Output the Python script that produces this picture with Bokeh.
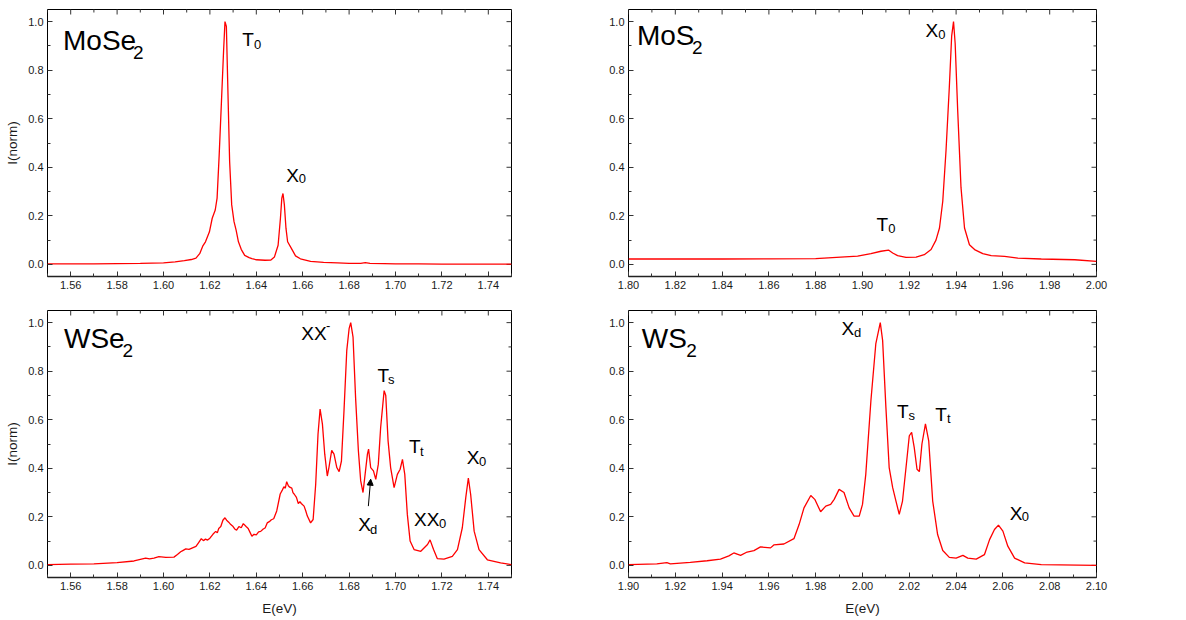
from bokeh.plotting import figure
from bokeh.layouts import column, row
from bokeh.models import (ColumnDataSource, Range1d, LinearAxis, FixedTicker,
                          PrintfTickFormatter, Arrow, NormalHead)
from bokeh.core.properties import value
from bokeh.embed import file_html
from bokeh.resources import INLINE

FONT = "Liberation Sans"
RED = "#ff0000"

# ---- PL spectra (photon energy in eV, normalised intensity) ----
mose2_e = [1.550, 1.560, 1.570, 1.580, 1.590, 1.600, 1.605, 1.609, 1.612, 1.614, 1.6156, 1.6169,
           1.6181, 1.6198, 1.621, 1.6223, 1.6231, 1.624, 1.625, 1.6259, 1.6265, 1.6271, 1.6278,
           1.6285, 1.6294, 1.6304, 1.6313, 1.6323, 1.6335, 1.635, 1.6369, 1.6381, 1.640, 1.6438,
           1.6463, 1.6478, 1.6494, 1.6504, 1.651, 1.6515, 1.6521, 1.6528, 1.6535, 1.655, 1.6569,
           1.659, 1.6634, 1.669, 1.675, 1.680, 1.685, 1.687, 1.689, 1.695, 1.700, 1.710, 1.720,
           1.730, 1.740, 1.750]
mose2_i = [0.002, 0.002, 0.002, 0.003, 0.004, 0.006, 0.010, 0.015, 0.020, 0.026, 0.044, 0.075,
           0.093, 0.134, 0.190, 0.224, 0.273, 0.450, 0.675, 0.880, 1.000, 0.980, 0.700,
           0.425, 0.245, 0.176, 0.141, 0.093, 0.062, 0.037, 0.028, 0.024, 0.019, 0.017,
           0.018, 0.030, 0.079, 0.190, 0.273, 0.292, 0.245, 0.148, 0.093, 0.068, 0.035,
           0.023, 0.012, 0.008, 0.006, 0.004, 0.004, 0.007, 0.004, 0.003, 0.002, 0.002, 0.001,
           0.001, 0.001, 0.001]

mos2_e = [1.800, 1.820, 1.840, 1.860, 1.880, 1.8907, 1.8979, 1.9036, 1.9079, 1.9111, 1.9129,
          1.915, 1.9186, 1.9229, 1.9264, 1.9293, 1.9314, 1.9329, 1.9343, 1.9357, 1.9371, 1.9381,
          1.9389, 1.9396, 1.9407, 1.9421, 1.9436, 1.9457, 1.9479, 1.9514, 1.955, 1.9607, 1.9664,
          1.9764, 1.9907, 2.000]
mos2_i = [0.022, 0.023, 0.022, 0.023, 0.024, 0.030, 0.034, 0.044, 0.054, 0.059, 0.047,
          0.036, 0.029, 0.030, 0.040, 0.061, 0.100, 0.150, 0.260, 0.470, 0.730, 0.940,
          1.000, 0.910, 0.630, 0.316, 0.150, 0.081, 0.061, 0.044, 0.036, 0.033, 0.026,
          0.022, 0.019, 0.012]

wse2_e = [1.550, 1.560, 1.570, 1.580, 1.5873, 1.5923, 1.5940, 1.5959, 1.598, 1.601, 1.6045,
          1.6060, 1.6074, 1.6085, 1.6096, 1.611, 1.6125, 1.614, 1.6150, 1.6163, 1.6172, 1.6181,
          1.619, 1.620, 1.6213, 1.6225, 1.6232, 1.6238, 1.6247, 1.6256, 1.6265, 1.6272, 1.6281,
          1.629, 1.630, 1.6307, 1.6315, 1.6325, 1.6335, 1.6344, 1.6356, 1.6365, 1.6372, 1.6381,
          1.639, 1.640, 1.641, 1.6419, 1.643, 1.6438, 1.6447, 1.6456, 1.6465, 1.6475, 1.6488,
          1.6503, 1.6512, 1.6519, 1.6525, 1.6531, 1.6538, 1.6544, 1.6553, 1.6558, 1.6563,
          1.6573, 1.6581, 1.6588, 1.6594, 1.6606, 1.6613, 1.662, 1.6634, 1.6645,
          1.6656, 1.6666, 1.6675, 1.6685, 1.6695, 1.6706, 1.6713, 1.6725,
          1.6735, 1.6747, 1.6757, 1.6767, 1.6778, 1.679, 1.680, 1.6807, 1.6817, 1.6828, 1.684,
          1.685, 1.686, 1.6869, 1.6879, 1.6884, 1.6893, 1.6905, 1.6915, 1.6926, 1.6936, 1.6951,
          1.6958, 1.6968, 1.6979, 1.6994, 1.7008, 1.702, 1.703, 1.704, 1.7051, 1.7063, 1.708,
          1.7109, 1.7138, 1.7149, 1.7164, 1.718, 1.7209, 1.7245, 1.7267, 1.7288, 1.7303, 1.7314,
          1.7324, 1.7339, 1.736, 1.7396, 1.7453, 1.750]
wse2_i = [0.003, 0.005, 0.006, 0.011, 0.018, 0.030, 0.027, 0.030, 0.036, 0.033, 0.034,
          0.045, 0.056, 0.062, 0.068, 0.066, 0.072, 0.078, 0.092, 0.110, 0.102, 0.108,
          0.104, 0.112, 0.128, 0.140, 0.134, 0.152, 0.160, 0.186, 0.196, 0.186, 0.178,
          0.168, 0.160, 0.150, 0.145, 0.160, 0.155, 0.172, 0.160, 0.152, 0.138, 0.120,
          0.128, 0.126, 0.138, 0.140, 0.150, 0.154, 0.175, 0.180, 0.188, 0.192, 0.224,
          0.294, 0.310, 0.324, 0.318, 0.345, 0.328, 0.322, 0.318, 0.300, 0.294,
          0.280, 0.255, 0.262, 0.255, 0.244, 0.225, 0.203, 0.175, 0.189,
          0.334, 0.540, 0.644, 0.582, 0.458, 0.368, 0.403, 0.474,
          0.458, 0.403, 0.386, 0.430, 0.637, 0.886, 0.975, 1.000, 0.940, 0.690, 0.472,
          0.348, 0.300, 0.375, 0.458, 0.479, 0.403, 0.389, 0.354, 0.417, 0.568, 0.720,
          0.700, 0.513, 0.403, 0.320, 0.375, 0.396, 0.437, 0.375, 0.210, 0.100, 0.065,
          0.058, 0.086, 0.105, 0.065, 0.028, 0.026, 0.037, 0.065, 0.155, 0.280, 0.360,
          0.292, 0.141, 0.065, 0.023, 0.010, 0.003]

ws2_e = [1.900, 1.9121, 1.9164, 1.9179, 1.9264, 1.9336, 1.9393, 1.9429, 1.945, 1.9479, 1.9507,
         1.9536, 1.9564, 1.9607, 1.9621, 1.9664, 1.9707, 1.9729, 1.975, 1.9779, 1.9796, 1.9821,
         1.9843, 1.9864, 1.9879, 1.990, 1.9921, 1.9943, 1.9964, 1.9986, 2.000, 2.0014, 2.0036,
         2.0057, 2.0076, 2.0086, 2.010, 2.0114, 2.0129, 2.0143, 2.0157, 2.0171, 2.0186, 2.020,
         2.021, 2.0221, 2.0233, 2.0243, 2.0254, 2.0269, 2.0283, 2.030, 2.0321, 2.0343, 2.0371,
         2.040, 2.0429, 2.045, 2.0486, 2.0521, 2.0543, 2.0564, 2.0581, 2.060, 2.0621, 2.065,
         2.0693, 2.0764, 2.100]
ws2_i = [0.003, 0.006, 0.011, 0.006, 0.012, 0.019, 0.026, 0.039, 0.051, 0.041, 0.055,
         0.061, 0.076, 0.072, 0.084, 0.088, 0.110, 0.168, 0.237, 0.288, 0.272, 0.221,
         0.244, 0.251, 0.272, 0.313, 0.300, 0.237, 0.203, 0.203, 0.251, 0.375, 0.679,
         0.914, 1.000, 0.927, 0.651, 0.403, 0.320, 0.265, 0.210, 0.265, 0.403, 0.534,
         0.548, 0.486, 0.396, 0.386, 0.500, 0.583, 0.513, 0.265, 0.127, 0.061, 0.033,
         0.030, 0.041, 0.030, 0.026, 0.044, 0.106, 0.148, 0.166, 0.141, 0.079, 0.030,
         0.010, 0.003, 0.000]

# ---- tick values ----
ticks_se = [1.56, 1.58, 1.60, 1.62, 1.64, 1.66, 1.68, 1.70, 1.72, 1.74]
ticks_mos2 = [1.80, 1.82, 1.84, 1.86, 1.88, 1.90, 1.92, 1.94, 1.96, 1.98, 2.00]
ticks_ws2 = [1.90, 1.92, 1.94, 1.96, 1.98, 2.00, 2.02, 2.04, 2.06, 2.08, 2.10]
minor_se = [1.55, 1.57, 1.59, 1.61, 1.63, 1.65, 1.67, 1.69, 1.71, 1.73, 1.75]
minor_mos2 = [1.81, 1.83, 1.85, 1.87, 1.89, 1.91, 1.93, 1.95, 1.97, 1.99]
minor_ws2 = [1.91, 1.93, 1.95, 1.97, 1.99, 2.01, 2.03, 2.05, 2.07, 2.09]
ticks_i = [0.0, 0.2, 0.4, 0.6, 0.8, 1.0]
minor_i = [0.1, 0.3, 0.5, 0.7, 0.9]

# ---- annotation text: (x, y, text) for letters and their sub/superscripts ----
mose2_names = dict(x=[1.5567], y=[0.888], text=["MoSe"])
mose2_name_sub = dict(x=[1.5868], y=[0.840], text=["2"])
mose2_peaks = dict(x=[1.6339, 1.6529], y=[0.892, 0.334], text=["T", "X"])
mose2_peak_sub = dict(x=[1.6390, 1.6583], y=[0.874, 0.320], text=["0", "0"])

mos2_names = dict(x=[1.8036], y=[0.909], text=["MoS"])
mos2_name_sub = dict(x=[1.8271], y=[0.861], text=["2"])
mos2_peaks = dict(x=[1.9269, 1.9060], y=[0.930, 0.132], text=["X", "T"])
mos2_peak_sub = dict(x=[1.9324, 1.9110], y=[0.912, 0.116], text=["0", "0"])

wse2_names = dict(x=[1.5571], y=[0.900], text=["WSe"])
wse2_name_sub = dict(x=[1.5823], y=[0.851], text=["2"])
wse2_peaks = dict(x=[1.6594, 1.6922, 1.7058, 1.7307, 1.7080, 1.6839],
                  y=[0.924, 0.748, 0.455, 0.410, 0.154, 0.134],
                  text=["XX", "T", "T", "X", "XX", "X"])
wse2_peak_sub = dict(x=[1.6700, 1.6968, 1.7106, 1.7360, 1.7188, 1.6890],
                     y=[0.955, 0.731, 0.437, 0.396, 0.141, 0.116],
                     text=["-", "s", "t", "0", "0", "d"])
wse2_arrow = dict(x0=1.6883, y0=0.244, x1=1.6893, y1=0.355)

ws2_names = dict(x=[1.9057], y=[0.900], text=["WS"])
ws2_name_sub = dict(x=[1.9247], y=[0.851], text=["2"])
ws2_peaks = dict(x=[1.9910, 2.0147, 2.0311, 2.0629], y=[0.941, 0.599, 0.589, 0.182],
                 text=["X", "T", "T", "X"])
ws2_peak_sub = dict(x=[1.9964, 2.0197, 2.0361, 2.0681], y=[0.927, 0.585, 0.572, 0.168],
                    text=["d", "s", "t", "0"])

Y_RANGE = (-0.05, 1.05)
TICK_COLOR = "#333333"


def panel(e, inten, xr, xticks, xminor, names, name_sub, peaks, peak_sub, width, height,
          borders, ylabel=False, xlabel=False, arrow=None):
    left, right, top, bottom = borders
    p = figure(width=width, height=height, output_backend="svg", toolbar_location=None,
               x_range=Range1d(*xr), y_range=Range1d(*Y_RANGE),
               min_border_left=left, min_border_right=right,
               min_border_top=top, min_border_bottom=bottom,
               x_axis_type=None, y_axis_type=None)
    p.background_fill_color = "white"
    p.border_fill_color = "white"
    p.outline_line_color = "black"
    p.outline_line_width = 1
    p.xgrid.visible = False
    p.ygrid.visible = False

    def style(ax):
        ax.major_tick_in = 5
        ax.major_tick_out = 0
        ax.minor_tick_in = 3
        ax.minor_tick_out = 0
        ax.major_tick_line_color = TICK_COLOR
        ax.minor_tick_line_color = TICK_COLOR
        ax.major_label_text_font = FONT
        ax.major_label_text_font_size = "11px"
        ax.major_label_text_color = "#1a1a1a"
        ax.major_label_standoff = 4

    xb = LinearAxis(ticker=FixedTicker(ticks=xticks, minor_ticks=xminor),
                    formatter=PrintfTickFormatter(format="%.2f"))
    style(xb)
    xb.axis_line_color = "#222222"
    xb.axis_line_width = 1.5
    if xlabel:
        xb.axis_label = "E(eV)"
        xb.axis_label_text_font = FONT
        xb.axis_label_text_font_style = "normal"
        xb.axis_label_text_font_size = "13.5px"
        xb.axis_label_text_color = "#1a1a1a"
        xb.axis_label_standoff = 8
    p.add_layout(xb, "below")

    yl = LinearAxis(ticker=FixedTicker(ticks=ticks_i, minor_ticks=minor_i),
                    formatter=PrintfTickFormatter(format="%.1f"))
    style(yl)
    yl.axis_line_color = None
    if ylabel:
        yl.axis_label = "I(norm)"
        yl.axis_label_text_font = FONT
        yl.axis_label_text_font_style = "normal"
        yl.axis_label_text_font_size = "13.5px"
        yl.axis_label_text_color = "#1a1a1a"
        yl.axis_label_standoff = 5
    p.add_layout(yl, "left")

    # mirrored inward ticks along the top and right edges of the frame
    top_edge, right_edge = Y_RANGE[1], xr[1]
    p.scatter(xticks, [top_edge] * len(xticks), marker="dash", size=10, angle=1.5708,
              line_color=TICK_COLOR, line_width=1)
    p.scatter(xminor, [top_edge] * len(xminor), marker="dash", size=6, angle=1.5708,
              line_color=TICK_COLOR, line_width=1)
    p.scatter([right_edge] * len(ticks_i), ticks_i, marker="dash", size=10,
              line_color=TICK_COLOR, line_width=1)
    p.scatter([right_edge] * len(minor_i), minor_i, marker="dash", size=6,
              line_color=TICK_COLOR, line_width=1)

    p.line(e, inten, line_color=RED, line_width=1.3)

    for src, size in ((names, "28px"), (name_sub, "19px"), (peaks, "19px"), (peak_sub, "13px")):
        p.text(x="x", y="y", text="text", source=ColumnDataSource(src),
               text_font=value(FONT), text_font_size=value(size), text_color="black",
               text_align="left", text_baseline="alphabetic", y_offset=-8)

    if arrow:
        p.add_layout(Arrow(x_start=arrow["x0"], y_start=arrow["y0"],
                           x_end=arrow["x1"], y_end=arrow["y1"],
                           line_color="black", line_width=1,
                           end=NormalHead(size=6, fill_color="black", line_color="black")))
    return p


p1 = panel(mose2_e, mose2_i, (1.55, 1.75), ticks_se, minor_se, mose2_names, mose2_name_sub,
           mose2_peaks, mose2_peak_sub, 580, 300, (47, 69, 9, 24), ylabel=True)
p2 = panel(mos2_e, mos2_i, (1.80, 2.00), ticks_mos2, minor_mos2, mos2_names, mos2_name_sub,
           mos2_peaks, mos2_peak_sub, 606, 300, (48, 90, 9, 24))
p3 = panel(wse2_e, wse2_i, (1.55, 1.75), ticks_se, minor_se, wse2_names, wse2_name_sub,
           wse2_peaks, wse2_peak_sub, 580, 320, (47, 69, 10, 43), ylabel=True, xlabel=True,
           arrow=wse2_arrow)
p4 = panel(ws2_e, ws2_i, (1.90, 2.10), ticks_ws2, minor_ws2, ws2_names, ws2_name_sub,
           ws2_peaks, ws2_peak_sub, 606, 320, (48, 90, 10, 43), xlabel=True)

layout = column(row(p1, p2, spacing=0), row(p3, p4, spacing=0), spacing=0)

with open("out.html", "w") as f:
    f.write(file_html(layout, INLINE, title="PL spectra"))
